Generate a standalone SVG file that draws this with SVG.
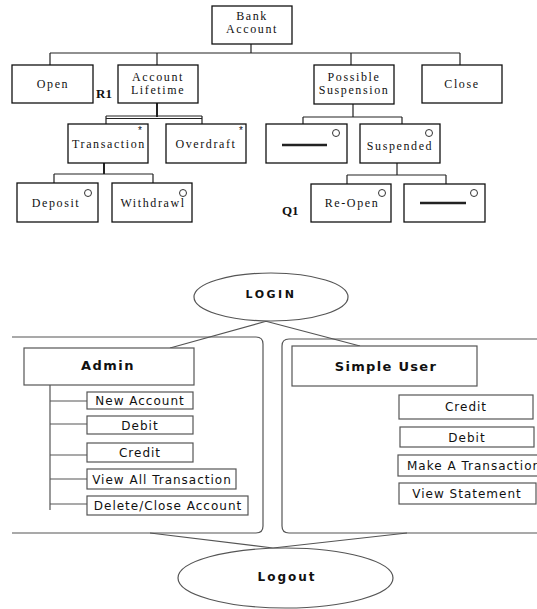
<svg xmlns="http://www.w3.org/2000/svg" width="537" height="609" viewBox="0 0 537 609">
<style>
.bx{fill:#fff;stroke:#111;stroke-width:1.3}
.ln{fill:none;stroke:#222;stroke-width:1.2}
.st{fill:none;stroke:#222;stroke-width:2}
.sf{font-family:"Liberation Serif","Times New Roman",serif;font-size:12px;letter-spacing:1.6px;fill:#111;text-anchor:middle}
.bd{font-family:"Liberation Serif","Times New Roman",serif;font-size:13px;font-weight:bold;fill:#111}
.ast{font-family:"Liberation Sans",Arial,sans-serif;font-size:10px;fill:#111;text-anchor:middle}
.ci{fill:#fff;stroke:#333;stroke-width:1}
.dash{stroke:#222;stroke-width:2.5}
.gl{fill:none;stroke:#555;stroke-width:1.2}
.gb{fill:#fff;stroke:#555;stroke-width:1.2}
.ss{font-family:"DejaVu Sans",Verdana,sans-serif;font-size:12px;letter-spacing:1px;fill:#111;text-anchor:middle}
.sb{font-family:"DejaVu Sans",Verdana,sans-serif;font-weight:bold;fill:#111;text-anchor:middle}
</style>

<g id="connectors">
  <path class="ln" d="M251,44V53M50,53H460M50,53V65M157,53V65M351,53V65M460,53V65"/>
  <path class="st" d="M157,103V117"/>
  <path class="ln" d="M106,116H202M106,118.5H202M106,116V124M202,116V124"/>
  <path class="st" d="M104,163V174"/>
  <path class="ln" d="M54,174H153M54,174V183M153,174V183"/>
  <path class="ln" d="M353,104V117M303,117H402M303,117V124M402,117V124"/>
  <path class="ln" d="M397,163V175M347,175H446M347,175V184M446,175V184"/>
  <path class="gl" d="M267,321L170,348M265,321L360,346"/>
  <path class="gl" d="M50,385V510M50,401H87M50,424H87M50,455H87M50,479H87M50,504H87"/>
  <path class="gl" d="M150,533L273,548M407,533L273,548"/>
</g>

<g id="bank-account">
  <rect class="bx" x="212" y="6" width="80" height="38"/>
  <text class="sf" x="252" y="20">Bank</text>
  <text class="sf" x="252" y="33">Account</text>
</g>
<g id="open">
  <rect class="bx" x="12" y="65" width="81" height="38"/>
  <text class="sf" x="53" y="88">Open</text>
</g>
<g id="account-lifetime">
  <rect class="bx" x="118" y="65" width="80" height="38"/>
  <text class="sf" x="158" y="81">Account</text>
  <text class="sf" x="158" y="94">Lifetime</text>
  <text class="bd" x="96" y="98">R1</text>
</g>
<g id="possible-suspension">
  <rect class="bx" x="314" y="65" width="80" height="39"/>
  <text class="sf" x="354" y="81">Possible</text>
  <text class="sf" x="354" y="94">Suspension</text>
</g>
<g id="close">
  <rect class="bx" x="422" y="65" width="80" height="38"/>
  <text class="sf" x="462" y="88">Close</text>
</g>
<g id="transaction">
  <rect class="bx" x="68" y="124" width="80" height="39"/>
  <text class="sf" x="109" y="148">Transaction</text>
  <text class="ast" x="140" y="134">*</text>
</g>
<g id="overdraft">
  <rect class="bx" x="166" y="124" width="80" height="39"/>
  <text class="sf" x="206" y="148">Overdraft</text>
  <text class="ast" x="241" y="134">*</text>
</g>
<g id="deposit">
  <rect class="bx" x="17" y="183" width="81" height="39"/>
  <text class="sf" x="56" y="207">Deposit</text>
  <circle class="ci" cx="88" cy="193" r="3.5"/>
</g>
<g id="withdrawl">
  <rect class="bx" x="112" y="183" width="80" height="39"/>
  <text class="sf" x="153" y="207">Withdrawl</text>
  <circle class="ci" cx="183" cy="193" r="3.5"/>
</g>
<g id="blank-1">
  <rect class="bx" x="266" y="124" width="81" height="39"/>
  <line class="dash" x1="282" y1="145" x2="327" y2="145"/>
  <circle class="ci" cx="336" cy="133" r="3.5"/>
</g>
<g id="suspended">
  <rect class="bx" x="360" y="124" width="80" height="39"/>
  <text class="sf" x="400" y="150">Suspended</text>
  <circle class="ci" cx="429" cy="133" r="3.5"/>
</g>
<g id="re-open">
  <rect class="bx" x="311" y="184" width="80" height="38"/>
  <text class="sf" x="352" y="207">Re-Open</text>
  <circle class="ci" cx="382" cy="193" r="3.5"/>
  <text class="bd" x="282" y="215">Q1</text>
</g>
<g id="blank-2">
  <rect class="bx" x="404" y="184" width="81" height="38"/>
  <line class="dash" x1="420" y1="203" x2="466" y2="203"/>
  <circle class="ci" cx="474" cy="193" r="3.5"/>
</g>

<g id="login">
  <ellipse class="gb" cx="271" cy="297" rx="77" ry="24"/>
  <text class="sb" x="271" y="298" font-size="11" letter-spacing="2.5">LOGIN</text>
</g>
<g id="admin-panel">
  <path class="gl" d="M12,337H256Q263,337 263,344V526Q263,533 256,533H12"/>
</g>
<g id="user-panel">
  <path class="gl" d="M537,339H289Q282,339 282,346V526Q282,533 289,533H537"/>
</g>
<g id="admin">
  <rect class="gb" x="24" y="348" width="170" height="37"/>
  <text class="sb" x="108" y="370" font-size="13" letter-spacing="1.5">Admin</text>
</g>
<g id="a-new-account">
  <rect class="gb" x="87" y="392" width="106" height="17"/>
  <text class="ss" x="140" y="405">New Account</text>
</g>
<g id="a-debit">
  <rect class="gb" x="87" y="416" width="106" height="18"/>
  <text class="ss" x="140" y="430">Debit</text>
</g>
<g id="a-credit">
  <rect class="gb" x="87" y="443" width="106" height="19"/>
  <text class="ss" x="140" y="457">Credit</text>
</g>
<g id="a-view-all">
  <rect class="gb" x="87" y="469" width="149" height="20"/>
  <text class="ss" x="162" y="484">View All Transaction</text>
</g>
<g id="a-delete">
  <rect class="gb" x="87" y="496" width="161" height="19"/>
  <text class="ss" x="168" y="510">Delete/Close Account</text>
</g>
<g id="simple-user">
  <rect class="gb" x="292" y="346" width="185" height="40"/>
  <text class="sb" x="386" y="371" font-size="13" letter-spacing="1.3">Simple User</text>
</g>
<g id="u-credit">
  <rect class="gb" x="399" y="395" width="134" height="24"/>
  <text class="ss" x="466" y="411">Credit</text>
</g>
<g id="u-debit">
  <rect class="gb" x="400" y="427" width="134" height="20"/>
  <text class="ss" x="467" y="442">Debit</text>
</g>
<g id="u-make-transaction">
  <rect class="gb" x="398" y="455" width="150" height="21"/>
  <text class="ss" x="407" y="470" style="text-anchor:start">Make A Transaction</text>
</g>
<g id="u-view-statement">
  <rect class="gb" x="399" y="483" width="137" height="21"/>
  <text class="ss" x="467" y="498">View Statement</text>
</g>
<g id="logout">
  <ellipse class="gb" cx="285.5" cy="578" rx="107.5" ry="30"/>
  <text class="sb" x="287" y="581" font-size="12" letter-spacing="2">Logout</text>
</g>
</svg>
